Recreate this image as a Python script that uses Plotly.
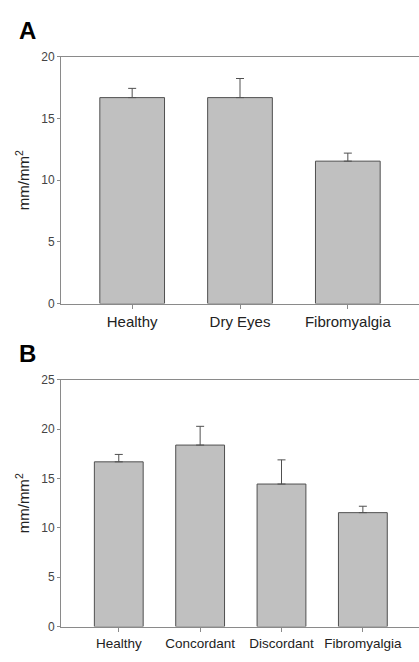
import plotly.graph_objects as go

# Panel A data
cats_a = ["Healthy", "Dry Eyes", "Fibromyalgia"]
means_a = [16.7, 16.7, 11.55]
sem_a = [0.75, 1.55, 0.65]

# Panel B data
cats_b = ["Healthy", "Concordant", "Discordant", "Fibromyalgia"]
means_b = [16.7, 18.4, 14.45, 11.55]
sem_b = [0.75, 1.9, 2.45, 0.65]

yticks_a = [0, 5, 10, 15, 20]
yticks_b = [0, 5, 10, 15, 20, 25]

W, H = 419, 662
FONT = "Liberation Sans, Arial, sans-serif"
BAR_FILL = "#c0c0c0"
BAR_LINE = "#505050"
AXIS = "#8a8a8a"

def py(px):
    return (H - px) / H

fig = go.Figure()
fig.add_trace(go.Bar(
    x=cats_a, y=means_a, width=0.6, xaxis="x", yaxis="y",
    marker=dict(color=BAR_FILL, line=dict(color=BAR_LINE, width=1)),
    error_y=dict(type="data", array=sem_a, arrayminus=[0]*len(sem_a), symmetric=False,
                 color=BAR_LINE, thickness=1, width=4),
    showlegend=False, hoverinfo="skip"))
fig.add_trace(go.Bar(
    x=cats_b, y=means_b, width=0.6, xaxis="x2", yaxis="y2",
    marker=dict(color=BAR_FILL, line=dict(color=BAR_LINE, width=1)),
    error_y=dict(type="data", array=sem_b, arrayminus=[0]*len(sem_b), symmetric=False,
                 color=BAR_LINE, thickness=1, width=4),
    showlegend=False, hoverinfo="skip"))

xdom = [61 / W, 1.0]
common_x = dict(showline=True, linecolor=AXIS, linewidth=1, mirror=True,
                ticks="outside", ticklen=4, tickcolor=AXIS, showgrid=False,
                zeroline=False, fixedrange=True)
common_y = dict(showline=True, linecolor=AXIS, linewidth=1, mirror=False,
                ticks="outside", ticklen=3, tickcolor=AXIS, showgrid=False,
                zeroline=False, tickfont=dict(size=12, color="#444", family=FONT),
                fixedrange=True)

fig.update_layout(
    width=W, height=H,
    margin=dict(l=0, r=0, t=0, b=0),
    paper_bgcolor="white", plot_bgcolor="white",
    font=dict(family=FONT, color="#222"),
    bargap=0.4,
    xaxis=dict(domain=xdom, anchor="y", range=[-0.66, 2.66],
               tickfont=dict(size=15, color="#222", family=FONT), **common_x),
    yaxis=dict(domain=[py(303), py(51)], anchor="x", range=[0, 20],
               tickvals=yticks_a, **common_y),
    xaxis2=dict(domain=xdom, anchor="y2", range=[-0.71, 3.69],
                tickfont=dict(size=13.5, color="#222", family=FONT), **common_x),
    yaxis2=dict(domain=[py(633), py(381)], anchor="x2", range=[0, 25],
                tickvals=yticks_b, **common_y),
)

ann = []
for lab, yc in [("A", 23.5), ("B", 353.5)]:
    ann.append(dict(text="<b>%s</b>" % lab, x=17 / W, y=py(yc), xref="paper", yref="paper",
                    xanchor="left", yanchor="middle", showarrow=False,
                    font=dict(size=24, color="#000", family=FONT)))
for yc in [177, 507]:
    ann.append(dict(text="mm/mm<sup>2</sup>", x=22 / W, y=py(yc), xref="paper", yref="paper",
                    xanchor="center", yanchor="middle", showarrow=False, textangle=-90,
                    font=dict(size=15, color="#222", family=FONT)))
fig.update_layout(annotations=ann)

fig.write_html("out.html", config={"displayModeBar": False, "staticPlot": True},
               post_script="document.body.style.margin='0';document.body.style.overflow='hidden';")
